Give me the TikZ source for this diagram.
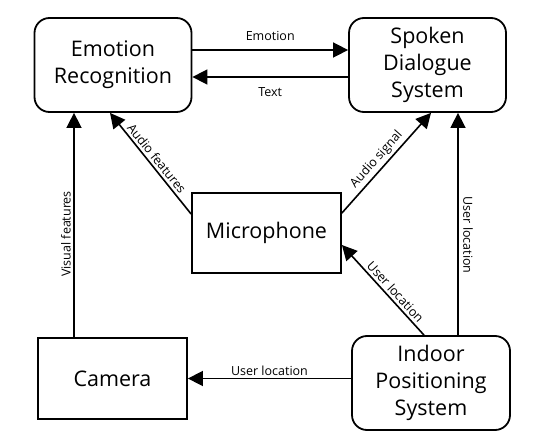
\documentclass[tikz,border=0pt]{standalone}
\usepackage{fontspec}
\setmainfont{Open Sans}
\usetikzlibrary{arrows.meta}
\begin{document}
\begin{tikzpicture}
      [x=1pt, y=-1pt, line width=1.6pt,
       block/.style={draw, line width=1.8pt, align=center, font=\fontsize{21.5}{27}\selectfont, inner sep=0pt},
       rblock/.style={block, rounded corners=15pt},
       flow/.style={-{Triangle[length=15pt,width=15pt]}},
       lbl/.style={font=\fontsize{12.5}{15}\selectfont, inner sep=2.5pt}]
      \useasboundingbox (0,0) rectangle (540,446);

      \node[rblock, minimum width=157pt, minimum height=94pt] (er) at (113,65) {Emotion\\Recognition};
      \node[rblock, minimum width=157pt, minimum height=94pt] (sds) at (427.5,65) {Spoken\\Dialogue\\System};
      \node[block, minimum width=149pt, minimum height=80pt] (mic) at (266.5,233) {Microphone};
      \node[block, minimum width=149pt, minimum height=81pt] (cam) at (112.5,378.5) {Camera};
      \node[rblock, minimum width=158pt, minimum height=94pt] (ips) at (431,383) {Indoor\\Positioning\\System};

      % top pair
      \draw[flow] ([yshift=15pt]er.east) -- ([yshift=15pt]er.east -| sds.west)
        node[lbl, midway, above=6.5pt] {Emotion};
      \draw[flow] ([yshift=-12pt]sds.west) -- ([yshift=-12pt]sds.west -| er.east)
        node[lbl, midway, below=7pt] {Text};

      % microphone
      \draw[flow] ([yshift=19pt]mic.west) -- ([xshift=-3pt]er.south)
        node[lbl, midway, sloped, above] {Audio features};
      \draw[flow] ([yshift=20pt]mic.east) -- ([xshift=3.5pt]sds.south)
        node[lbl, pos=0.47, sloped, above] {Audio signal};

      % camera
      \draw[flow] ([xshift=-38.5pt]cam.north) -- ([xshift=-38.5pt]cam.north |- er.south)
        node[lbl, pos=0.46, sloped, above] {Visual features};

      % positioning
      \draw[flow] ([xshift=-7pt]ips.north) -- ([yshift=-12pt]mic.east)
        node[lbl, pos=0.42, sloped, above] {User location};
      \draw[flow] ([xshift=27pt]ips.north) -- ([xshift=27pt]ips.north |- sds.south)
        node[lbl, pos=0.45, rotate=-90, anchor=south, yshift=2pt] {User location};
      \draw[flow] (ips.west |- cam.east) -- (cam.east)
        node[lbl, midway, above] {User location};
    \end{tikzpicture}
\end{document}
